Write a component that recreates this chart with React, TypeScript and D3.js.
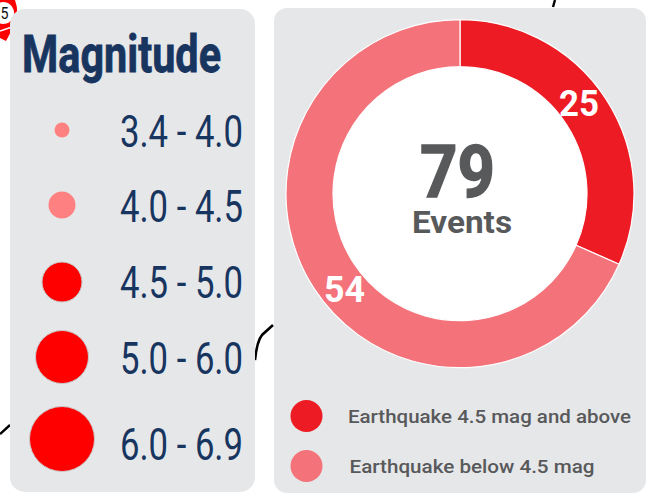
import React from "react";
import * as d3 from "d3";

const W = 653, H = 496;
const magnitudeLabels = ["3.4 - 4.0", "4.0 - 4.5", "4.5 - 5.0", "5.0 - 6.0", "6.0 - 6.9"];
const magnitudeRadii = [7.5, 13.5, 20, 26.5, 32.5];
const magnitudeColors = ["#ff8080", "#ff8080", "#ff0000", "#ff0000", "#ff0000"];
const magnitudeCy = [130, 205, 282, 357, 439];
const magnitudeBase = [147, 222, 298, 374, 460];
const donutLabels = ["Earthquake 4.5 mag and above", "Earthquake below 4.5 mag"];
const donutValues = [25, 54];
const donutColors = ["#ed1c24", "#f4737a"];
const NAVY = "#17355f", GREY = "#58595b", PANEL = "#e6e7e9";
const FONT = "Roboto, sans-serif";

export default function App() {
  const pie = d3.pie<number>().sort(null)(donutValues);
  const arc = d3.arc<d3.PieArcDatum<number>>().innerRadius(127).outerRadius(174);
  return (
    <svg width={W} height={H} style={{ position: "absolute", left: 0, top: 0, background: "#fff" }} fontFamily={FONT}>
      {/* map remnants behind the panels */}
      <path d="M255 360 Q257 341 262 335 L273 325" fill="none" stroke="#000" strokeWidth={2.6} />
      <path d="M0 434 L10 425" fill="none" stroke="#000" strokeWidth={2.4} />
      <path d="M555 0 L553 7" fill="none" stroke="#000" strokeWidth={2.4} />
      <path d="M0 0 H15 Q20 14 14 26 L6 41 L0 38 Z" fill="#f00" />
      <path d="M0 31 L12 27" stroke="#fff" strokeWidth={1.5} fill="none" />
      <circle cx={3} cy={13} r={11} fill="#fff" />
      <text x={0.5} y={19} fontSize={16} textLength={8} lengthAdjust="spacingAndGlyphs" fill="#111">5</text>

      <rect x={10} y={9} width={245} height={483} rx={15} fill={PANEL} />
      <rect x={274} y={8} width={372} height={485} rx={13} fill={PANEL} />

      <text x={22} y={72} fontSize={52} fontWeight={700} fill={NAVY} stroke={NAVY} strokeWidth={0.8} textLength={199} lengthAdjust="spacingAndGlyphs">Magnitude</text>
      {magnitudeLabels.map((t, i) => (
        <g key={t}>
          <circle cx={62} cy={magnitudeCy[i]} r={magnitudeRadii[i]} fill={magnitudeColors[i]} stroke={i > 1 ? "#c9c9c9" : "none"} strokeWidth={1} />
          <text x={120} y={magnitudeBase[i]} fontSize={45} fill={NAVY} textLength={123} lengthAdjust="spacingAndGlyphs">{t}</text>
        </g>
      ))}

      <circle cx={460} cy={193.5} r={127} fill="#fff" />
      <g transform="translate(460,193.7)">
        {pie.map((d, i) => (
          <path key={i} d={arc(d) as string} fill={donutColors[i]} stroke="#fff" strokeWidth={1.2} />
        ))}
      </g>
      <text x={559} y={116} fontSize={37} fontWeight={700} fill="#fff" textLength={40} lengthAdjust="spacingAndGlyphs">{donutValues[0]}</text>
      <text x={324} y={302} fontSize={37} fontWeight={700} fill="#fff" textLength={41} lengthAdjust="spacingAndGlyphs">{donutValues[1]}</text>
      <text x={420} y={197} fontSize={73} fontWeight={700} fill={GREY} stroke={GREY} strokeWidth={1.4} textLength={75} lengthAdjust="spacingAndGlyphs">{d3.sum(donutValues)}</text>
      <text x={412} y={233} fontSize={31} fontWeight={700} fill={GREY} textLength={100} lengthAdjust="spacingAndGlyphs">Events</text>

      {donutLabels.map((t, i) => (
        <g key={t}>
          <circle cx={306.5} cy={416 + i * 50} r={16} fill={donutColors[i]} />
          <text x={i ? 349.5 : 348} y={423 + i * 50} fontSize={19} fontWeight={500} fill={GREY} textLength={i ? 245 : 283} lengthAdjust="spacingAndGlyphs">{t}</text>
        </g>
      ))}
    </svg>
  );
}
